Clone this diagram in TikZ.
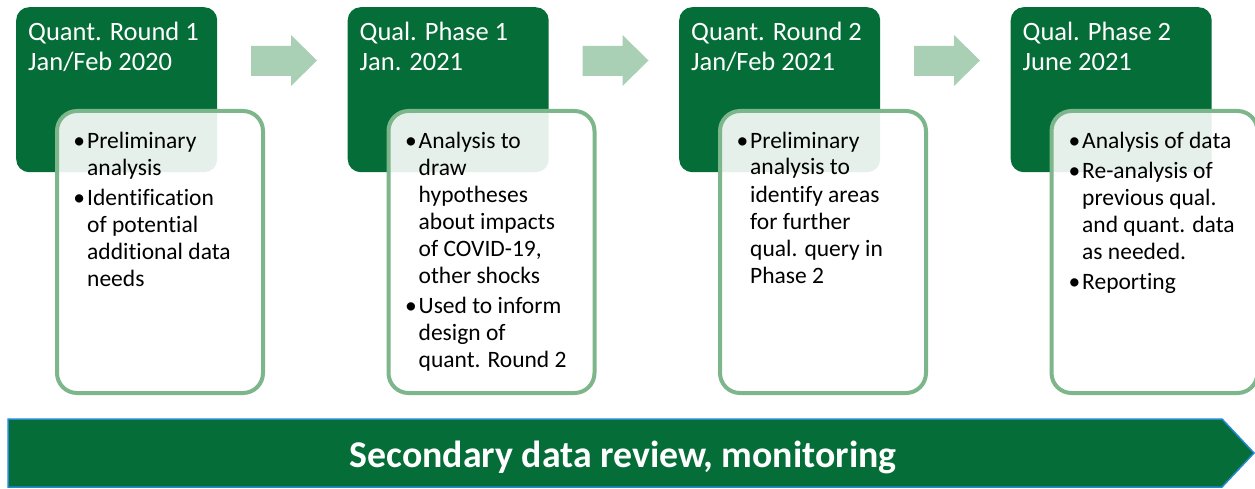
\documentclass[tikz,border=0pt]{standalone}
\usepackage{fontspec}
\setmainfont{Carlito}[Ligatures=NoCommon]
\definecolor{dkgreen}{HTML}{056D37}
\definecolor{ltborder}{HTML}{7DB68A}
\definecolor{arrowgreen}{HTML}{A9D0B4}
\definecolor{bannerblue}{HTML}{2389D1}
\tikzset{
  hdrbox/.style={fill=dkgreen, draw=none, rounded corners=13pt, anchor=north west,
    minimum width=201pt, minimum height=165pt, inner sep=0},
  bodybox/.style={fill=white, fill opacity=0.9, draw=ltborder, draw opacity=1,
    line width=4pt, rounded corners=20pt, anchor=north west,
    minimum width=206pt, minimum height=282pt, inner sep=0},
  hdrtext/.style={text=white, font=\fontsize{26.5}{30}\selectfont, align=left,
    anchor=base west, inner sep=0},
  bultext/.style={text=black, font=\fontsize{23.5}{27}\selectfont, align=left,
    anchor=base west, inner sep=0},
  blockarrow/.style={fill=arrowgreen, draw=none},
  banner/.style={fill=dkgreen, draw=bannerblue, line width=1.5pt},
  bannertext/.style={text=white, font=\fontsize{37.8}{40}\selectfont\bfseries, inner sep=0}
}
\newcommand\bl{\llap{\textbullet\hspace{2pt}}}
\begin{document}
\begin{tikzpicture}[x=1pt,y=-1pt]
\useasboundingbox (0,0) rectangle (1255,489);
% arrows
\foreach \o in {0,331.5,663}{
  \fill[blockarrow] (251+\o,46) -- (291+\o,46) -- (291+\o,35) -- (317+\o,60.5)
    -- (291+\o,86) -- (291+\o,76) -- (251+\o,76) -- cycle;
}
% column 1 (base anchor = last line)
\node[hdrbox] (h1) at (16,7) {};
\node[hdrtext] (t1) at (28,71) {Quant. Round 1\\Jan/Feb 2020};
\node[bodybox] (w1) at (55,109) {};
\node[bultext] (b1) at (87,286) {\bl Preliminary\\analysis\\[3pt]\bl Identification\\of potential\\additional data\\needs};
% column 2
\node[hdrbox] (h2) at (347.5,7) {};
\node[hdrtext] (t2) at (359.5,71) {Qual. Phase 1\\Jan. 2021};
\node[bodybox] (w2) at (386.5,109) {};
\node[bultext] (b2) at (418.5,367) {\bl Analysis to\\draw\\hypotheses\\about impacts\\of COVID-19,\\other shocks\\[3pt]\bl Used to inform\\design of\\quant. Round 2};
% column 3
\node[hdrbox] (h3) at (679,7) {};
\node[hdrtext] (t3) at (691,71) {Quant. Round 2\\Jan/Feb 2021};
\node[bodybox] (w3) at (718,109) {};
\node[bultext] (b3) at (750,283) {\bl Preliminary\\analysis to\\identify areas\\for further\\qual. query in\\Phase 2};
% column 4
\node[hdrbox] (h4) at (1010.5,7) {};
\node[hdrtext] (t4) at (1022.5,71) {Qual. Phase 2\\June 2021};
\node[bodybox] (w4) at (1049.5,109) {};
\node[bultext] (b4) at (1082,289) {\bl Analysis of data\\[3pt]\bl Re-analysis of\\previous qual.\\and quant. data\\as needed.\\[3pt]\bl Reporting};
% banner
\draw[banner] (8,419) -- (1222,419) -- (1254,453) -- (1222,487) -- (8,487) -- cycle;
\node[bannertext, anchor=base] (bt) at (623,467) {Secondary data review, monitoring};
\end{tikzpicture}
\end{document}
